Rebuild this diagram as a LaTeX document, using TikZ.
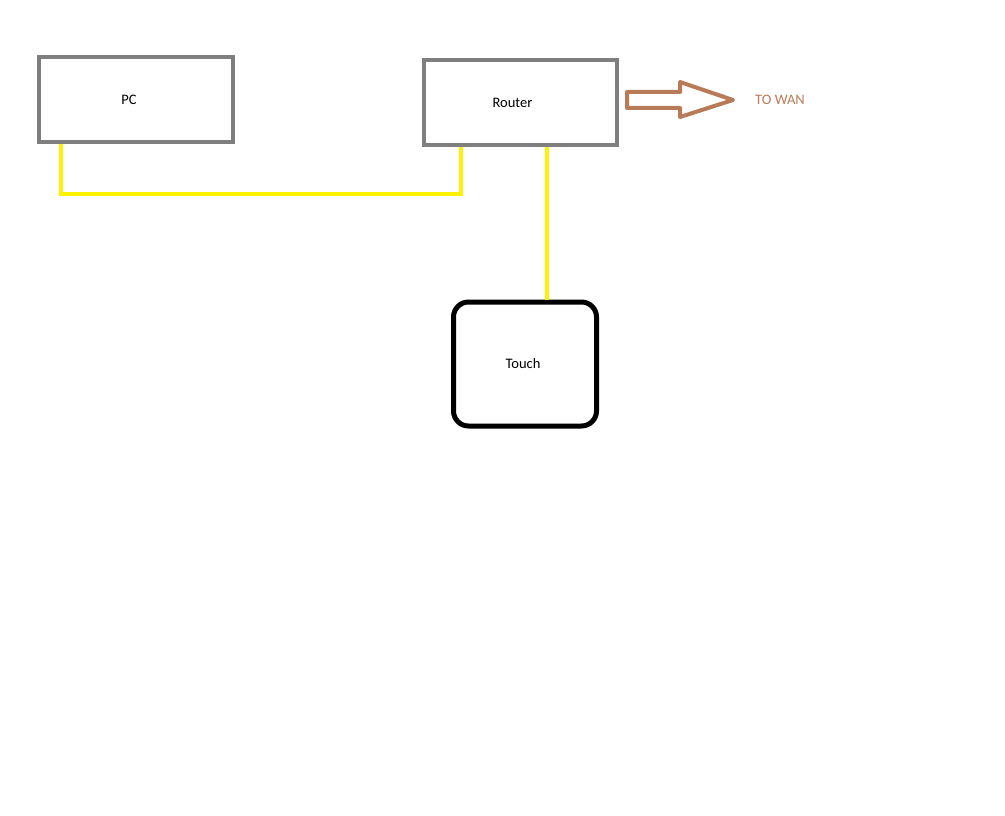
\documentclass[tikz,border=0pt]{standalone}
\usepackage{fontspec}
\setmainfont{Carlito}
\usepackage{tikz}
\usetikzlibrary{calc, positioning}
\definecolor{boxgray}{RGB}{127,127,127}
\definecolor{cableyellow}{RGB}{255,242,0}
\definecolor{wanbrown}{RGB}{185,122,87}

\tikzset{
    device/.style={draw=boxgray, line width=4pt, minimum width=194pt, minimum height=85pt, font=\fontsize{14.5}{17}\selectfont},
    touchbox/.style={draw=black, line width=5pt, rounded corners=15pt, minimum width=143pt, minimum height=124pt, font=\fontsize{14.5}{17}\selectfont},
    cable/.style={draw=cableyellow, line width=4.5pt}
}

\begin{document}
\begin{tikzpicture}[x=1pt, y=-1pt]

            \useasboundingbox (0,0) rectangle (1005,816);

            % Vẽ các thiết bị
            \node[device] (pc) at (136,99.5) {\hspace*{-14pt}PC};
            \node[device, minimum width=193pt] (router) at (520.5,102.5) {\hspace*{-16pt}Router};
            \node[touchbox] (touch) at (525,364) {\hspace*{-4pt}Touch};

            % Vẽ dây nối PC -- Router
            \draw[cable] ([xshift=24pt]pc.south west) -- ++(0,50) -| ([xshift=39pt]router.south west);

            % Vẽ dây nối Router -- Touch
            \coordinate (tap) at ([xshift=26.5pt]router.south);
            \draw[cable] (tap) -- (tap |- touch.north);

            % Mũi tên ra WAN
            \draw[wanbrown, line width=4pt, line join=round] (627,92) -- (680,92) -- (680,82) -- (733,100) -- (680,117) -- (680,108) -- (627,108) -- cycle;

            % Ghi chú
            \node[text=wanbrown, font=\fontsize{14.5}{17}\selectfont] (wan) at (780,100) {TO WAN};

\end{tikzpicture}
\end{document}
